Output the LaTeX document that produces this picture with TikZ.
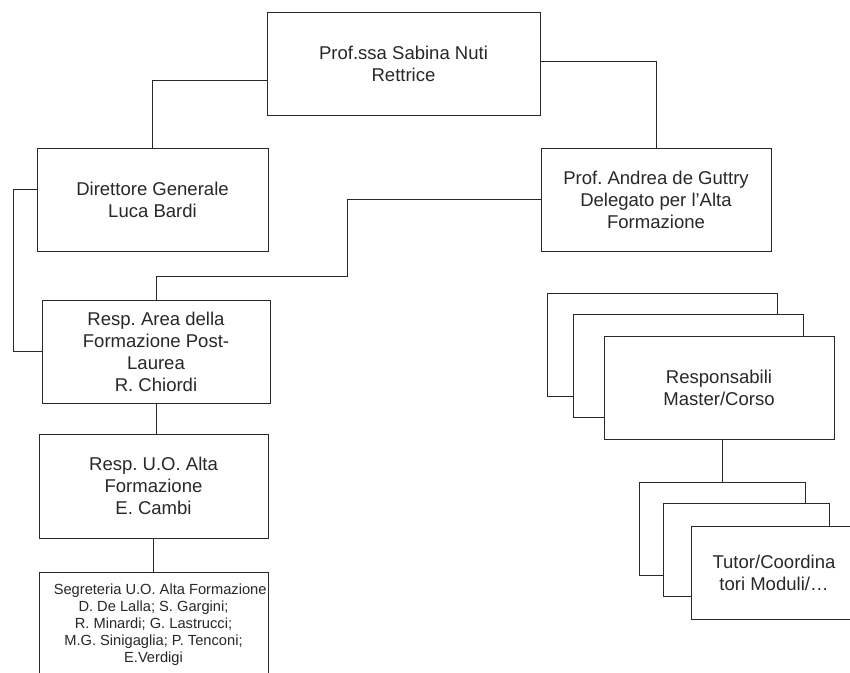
\documentclass[tikz,border=0pt]{standalone}
\usepackage{fontspec}
\setmainfont{Liberation Sans}
\usetikzlibrary{positioning}
\frenchspacing

\definecolor{ink}{RGB}{40,40,40}

\tikzset{
  orgbox/.style={draw=ink, fill=white, line width=0.7pt, inner sep=0pt, align=center,
    text=ink, font=\fontsize{13.9}{16.5}\selectfont},
  bigbox/.style={orgbox, minimum height=77.25pt},
  smallfont/.style={font=\fontsize{11}{12.75}\selectfont},
  orgline/.style={draw=ink, line width=0.7pt},
}

\begin{document}
\begin{tikzpicture}[x=0.75pt, y=-0.75pt]
  \useasboundingbox (0,0) rectangle (850,672);

  % top level
  \node[bigbox, minimum width=204.75pt] (rett) at (403.5,63.5) {Prof.ssa Sabina Nuti\\Rettrice};

  \node[bigbox, minimum width=173.25pt] (dir) at (152.5,199.5) {Direttore Generale\\Luca Bardi};
  \node[bigbox, minimum width=172.5pt] (del) at (656,199.5) {Prof. Andrea de Guttry\\Delegato per l’Alta\\Formazione};

  % left column
  \node[bigbox, minimum width=171pt] (area) at (156,351.5) {Resp. Area della\\Formazione Post-\\Laurea\\R. Chiordi};
  \node[orgbox, minimum width=171.75pt, minimum height=78pt] (uo) at (153.5,486) {Resp. U.O. Alta\\Formazione\\E. Cambi};
  \node[orgbox, smallfont, minimum width=171.75pt, minimum height=79.5pt] (seg) at (153.5,625)
    {\hspace*{10pt}Segreteria U.O. Alta Formazione\\D. De Lalla; S. Gargini;\\R. Minardi; G. Lastrucci;\\M.G. Sinigaglia; P. Tenconi;\\E.Verdigi};

  % right column (stacked boxes)
  \node[bigbox, minimum width=172.5pt] (resp1) at (662,345) {};
  \node[bigbox, minimum width=172.5pt] (resp2) at (688.5,366) {};
  \node[bigbox, minimum width=172.5pt] (resp) at (719,387.5) {Responsabili\\Master/Corso};

  \node[orgbox, minimum width=124.5pt, minimum height=69.75pt] (tut1) at (722.5,529) {};
  \node[orgbox, minimum width=124.5pt, minimum height=69.75pt] (tut2) at (746,550) {};
  \node[orgbox, minimum width=124.5pt, minimum height=69.75pt] (tut) at (774,572.5) {Tutor/Coordina\\tori Moduli/…};

  % connectors
  \coordinate (bend) at (347,276);
  \draw[orgline] ([yshift=-12.4pt]rett.west) -| (dir.north);
  \draw[orgline] ([yshift=1.9pt]rett.east) -| (del.north);
  \draw[orgline] (del.west) -| (bend) -| (area.north);
  \draw[orgline] ([yshift=7.5pt]dir.west) -- ++(-23,0) |- (area.west);
  \draw[orgline] (area.south) -- (area.south |- uo.north);
  \draw[orgline] (uo.south) -- (seg.north);
  \draw[orgline] (tut1.north |- resp.south) -- (tut1.north);
\end{tikzpicture}
\end{document}
